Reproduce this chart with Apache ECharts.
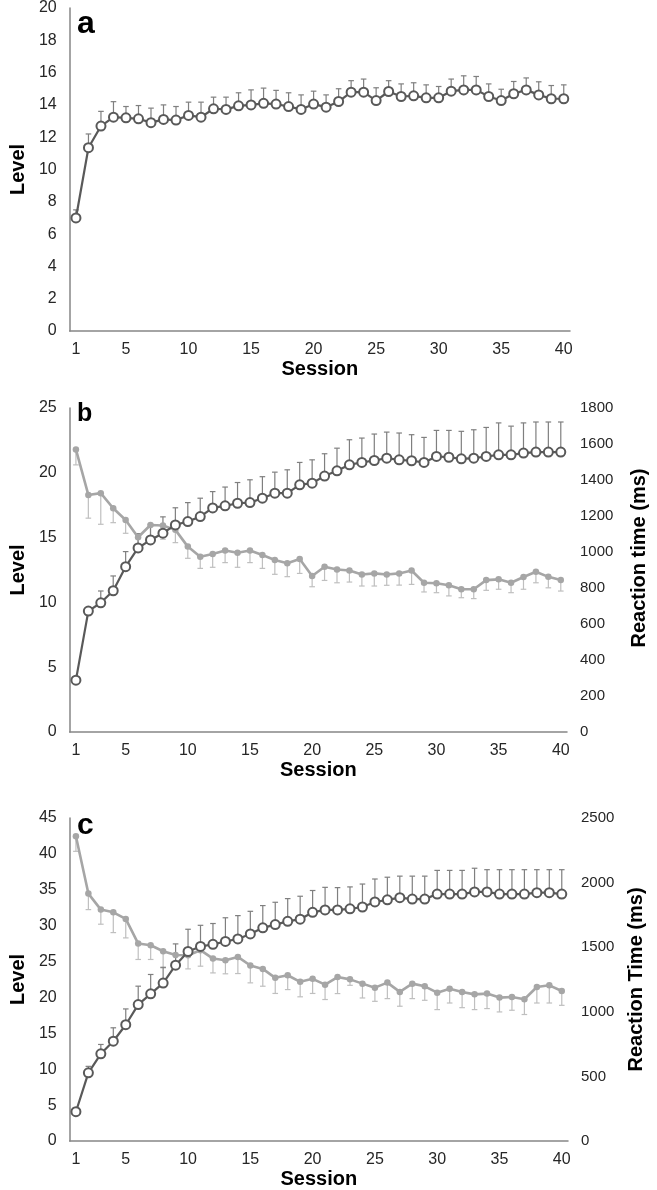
<!DOCTYPE html>
<html>
<head>
<meta charset="utf-8">
<script src="https://cdn.jsdelivr.net/npm/echarts@6/dist/echarts.min.js"></script>
<style>
html,body{margin:0;padding:0;background:#fff;}
#chart{width:657px;height:1190px;}
</style>
</head>
<body>
<div id="chart"></div>
<script>
// ---------- data ----------
const sessions = ['1','2','3','4','5','6','7','8','9','10','11','12','13','14','15','16','17','18','19','20',
  '21','22','23','24','25','26','27','28','29','30','31','32','33','34','35','36','37','38','39','40'];

// Panel a: level (mean) and upper end of error bar
const aLevel = [7.0, 11.35, 12.69, 13.24, 13.2, 13.14, 12.9, 13.1, 13.06, 13.35, 13.24, 13.76, 13.72, 13.94, 14.0, 14.1, 14.05, 13.9, 13.72, 14.05,
  13.86, 14.21, 14.79, 14.79, 14.27, 14.83, 14.52, 14.56, 14.44, 14.44, 14.85, 14.93, 14.93, 14.52, 14.27, 14.69, 14.93, 14.62, 14.38, 14.38];
const aLevelUpper = [7.5, 12.2, 13.6, 14.2, 13.9, 13.96, 13.8, 14.0, 13.9, 14.17, 14.17, 14.48, 14.48, 14.75, 14.93, 15.04, 14.9, 14.75, 14.62, 14.85,
  14.62, 15.0, 15.5, 15.6, 15.06, 15.5, 15.3, 15.37, 15.24, 15.14, 15.6, 15.8, 15.76, 15.3, 14.97, 15.45, 15.67, 15.43, 15.2, 15.24];

// Panel b: level + reaction time
const bLevel = [4.0, 9.33, 9.97, 10.9, 12.76, 14.2, 14.82, 15.34, 15.98, 16.24, 16.62, 17.29, 17.45, 17.65, 17.7, 18.04, 18.43, 18.43, 19.07, 19.2,
  19.75, 20.15, 20.62, 20.8, 20.95, 21.13, 21.0, 20.93, 20.8, 21.26, 21.2, 21.08, 21.13, 21.26, 21.39, 21.39, 21.52, 21.6, 21.6, 21.6];
const bLevelUpper = [4.2, 9.6, 10.88, 12.04, 13.92, 15.3, 16.0, 16.6, 17.3, 17.7, 18.04, 18.55, 18.9, 19.25, 19.46, 19.7, 20.05, 20.23, 20.8, 21.0,
  21.47, 21.9, 22.55, 22.68, 22.99, 23.14, 23.07, 22.94, 22.73, 23.27, 23.27, 23.2, 23.32, 23.5, 23.85, 23.6, 23.85, 23.92, 23.92, 23.92];
const bRT = [1570, 1317, 1327, 1243, 1178, 1082, 1150, 1147, 1123, 1030, 974, 989, 1008, 996, 1008, 983, 956, 937, 961, 867,
  918, 903, 897, 875, 881, 875, 881, 897, 829, 826, 815, 793, 793, 844, 848, 829, 861, 890, 862, 844];
const bRTLower = [1484, 1188, 1154, 1163, 1104, 1040, 1076, 1071, 1052, 965, 909, 915, 941, 915, 941, 909, 876, 863, 881, 807,
  842, 829, 833, 811, 811, 815, 816, 820, 778, 774, 756, 746, 741, 787, 793, 774, 793, 829, 801, 783];

// Panel c: level + reaction time
const cLevel = [4.08, 9.5, 12.15, 13.9, 16.2, 19.0, 20.5, 22.0, 24.5, 26.4, 27.1, 27.4, 27.8, 28.15, 28.85, 29.7, 30.15, 30.6, 30.9, 31.86,
  32.2, 32.2, 32.35, 32.6, 33.3, 33.6, 33.9, 33.7, 33.7, 34.4, 34.4, 34.4, 34.7, 34.7, 34.4, 34.4, 34.4, 34.6, 34.6, 34.4];
const cLevelUpper = [4.5, 10.4, 13.45, 15.77, 18.4, 21.57, 23.2, 24.2, 27.46, 29.5, 30.05, 30.3, 31.1, 31.4, 32.0, 32.8, 33.26, 33.77, 34.1, 34.9,
  35.34, 35.3, 35.4, 35.8, 36.5, 36.75, 36.9, 36.9, 36.9, 37.7, 37.7, 37.7, 38.0, 37.8, 37.8, 37.8, 37.8, 37.8, 37.8, 37.8];
const cRT = [2358, 1915, 1791, 1770, 1719, 1528, 1515, 1469, 1440, 1438, 1477, 1412, 1399, 1425, 1358, 1332, 1263, 1283, 1232, 1255,
  1210, 1269, 1251, 1218, 1187, 1226, 1154, 1218, 1197, 1148, 1179, 1154, 1135, 1141, 1110, 1115, 1097, 1192, 1205, 1161];
const cRTLower = [2242, 1791, 1678, 1613, 1572, 1405, 1405, 1340, 1360, 1332, 1353, 1301, 1294, 1296, 1224, 1198, 1142, 1172, 1116, 1142,
  1095, 1141, 1205, 1107, 1081, 1102, 1043, 1102, 1089, 1017, 1068, 1032, 1017, 1025, 999, 1012, 979, 1068, 1068, 1050];

// ---------- style ----------
const DARK = '#595959', DARK_ERR = '#7f7f7f', LIGHT = '#a6a6a6', LIGHT_ERR = '#bfbfbf';
const AXIS = '#868686', TXT = '#262626';
const FONT = '"Liberation Sans", Arial, sans-serif';

function errBars(mean, end) { return sessions.map((s, i) => [i, mean[i], end[i]]); }
function errRender(color) {
  return function (params, api) {
    const x = api.value(0);
    const p0 = api.coord([x, api.value(1)]);
    const p1 = api.coord([x, api.value(2)]);
    const cap = 2.8;
    return {
      type: 'group',
      children: [
        { type: 'line', shape: { x1: p0[0], y1: p0[1], x2: p1[0], y2: p1[1] }, style: { stroke: color, lineWidth: 1.2 } },
        { type: 'line', shape: { x1: p1[0] - cap, y1: p1[1], x2: p1[0] + cap, y2: p1[1] }, style: { stroke: color, lineWidth: 1.2 } }
      ]
    };
  };
}

function xAxisCfg(gridIndex) {
  return {
    type: 'category', gridIndex, data: sessions, boundaryGap: true,
    axisLine: { show: true, lineStyle: { color: AXIS, width: 1.5 } },
    axisTick: { show: false },
    axisLabel: { interval: (idx) => idx === 0 || (idx + 1) % 5 === 0, color: TXT, fontSize: 16, fontFamily: FONT, margin: 11 },
    name: 'Session', nameLocation: 'middle', nameGap: 28,
    nameTextStyle: { color: '#000', fontSize: 20, fontWeight: 'bold', fontFamily: FONT },
    splitLine: { show: false }
  };
}
function yLeft(gridIndex, max, interval, gap) {
  return {
    type: 'value', gridIndex, min: 0, max, interval, position: 'left',
    axisLine: { show: true, lineStyle: { color: AXIS, width: 1.5 } },
    axisTick: { show: false },
    axisLabel: { color: TXT, fontSize: 16, fontFamily: FONT, margin: 13 },
    splitLine: { show: false },
    name: 'Level', nameLocation: 'middle', nameGap: gap,
    nameTextStyle: { color: '#000', fontSize: 20, fontWeight: 'bold', fontFamily: FONT }
  };
}
function yRight(gridIndex, max, interval, name, gap, pad) {
  return {
    type: 'value', gridIndex, min: 0, max, interval, position: 'right',
    axisLine: { show: false }, axisTick: { show: false },
    axisLabel: { color: TXT, fontSize: 15, fontFamily: FONT, margin: 13, formatter: (v) => String(v) },
    splitLine: { show: false },
    name, nameLocation: 'middle', nameGap: gap,
    nameTextStyle: { color: '#000', fontSize: 20, fontWeight: 'bold', fontFamily: FONT, padding: pad }
  };
}
function levelLine(xi, yi, data) {
  return {
    type: 'line', xAxisIndex: xi, yAxisIndex: yi, data, z: 5,
    symbol: 'emptyCircle', symbolSize: 9, showSymbol: true, showAllSymbol: true,
    lineStyle: { color: DARK, width: 2.2 },
    itemStyle: { color: DARK, borderColor: DARK, borderWidth: 2.6 },
    emphasis: { disabled: true }
  };
}
function rtLine(xi, yi, data) {
  return {
    type: 'line', xAxisIndex: xi, yAxisIndex: yi, data, z: 3,
    symbol: 'circle', symbolSize: 6.5, showSymbol: true, showAllSymbol: true,
    lineStyle: { color: LIGHT, width: 2.6 },
    itemStyle: { color: LIGHT },
    emphasis: { disabled: true }
  };
}
function errSeries(xi, yi, mean, end, color, z) {
  return {
    type: 'custom', xAxisIndex: xi, yAxisIndex: yi, z,
    data: errBars(mean, end), encode: { x: 0, y: [1, 2] },
    renderItem: errRender(color), silent: true
  };
}

const chart = echarts.init(document.getElementById('chart'), null, { renderer: 'canvas' });
chart.setOption({
  animation: false,
  backgroundColor: '#fff',
  textStyle: { fontFamily: FONT },
  grid: [
    { left: 65, top: 7, width: 505, height: 324 },
    { left: 61, top: 408, width: 517, height: 324 },
    { left: 62, top: 818, width: 506, height: 324 }
  ],
  xAxis: [xAxisCfg(0), xAxisCfg(1), xAxisCfg(2)],
  yAxis: [
    yLeft(0, 20, 2, 37),
    yLeft(1, 25, 5, 37),
    yLeft(2, 45, 5, 40),
    yRight(1, 1800, 200, 'Reaction time (ms)', 62, [0, 0, 0, 24]),
    yRight(2, 2500, 500, 'Reaction Time (ms)', 58, 0)
  ],
  series: [
    errSeries(0, 0, aLevel, aLevelUpper, DARK_ERR, 1),
    levelLine(0, 0, aLevel),
    errSeries(1, 3, bRT, bRTLower, LIGHT_ERR, 1),
    errSeries(1, 1, bLevel, bLevelUpper, DARK_ERR, 2),
    rtLine(1, 3, bRT),
    levelLine(1, 1, bLevel),
    errSeries(2, 4, cRT, cRTLower, LIGHT_ERR, 1),
    errSeries(2, 2, cLevel, cLevelUpper, DARK_ERR, 2),
    rtLine(2, 4, cRT),
    levelLine(2, 2, cLevel)
  ],
  graphic: [
    { type: 'text', left: 77, top: 8, style: { text: 'a', fontSize: 32, fontWeight: 'bold', fontFamily: FONT, fill: '#000' } },
    { type: 'text', left: 77, top: 402, style: { text: 'b', fontSize: 25, fontWeight: 'bold', fontFamily: FONT, fill: '#000' } },
    { type: 'text', left: 77, top: 811, style: { text: 'c', fontSize: 30, fontWeight: 'bold', fontFamily: FONT, fill: '#000' } }
  ]
});
</script>
</body>
</html>
